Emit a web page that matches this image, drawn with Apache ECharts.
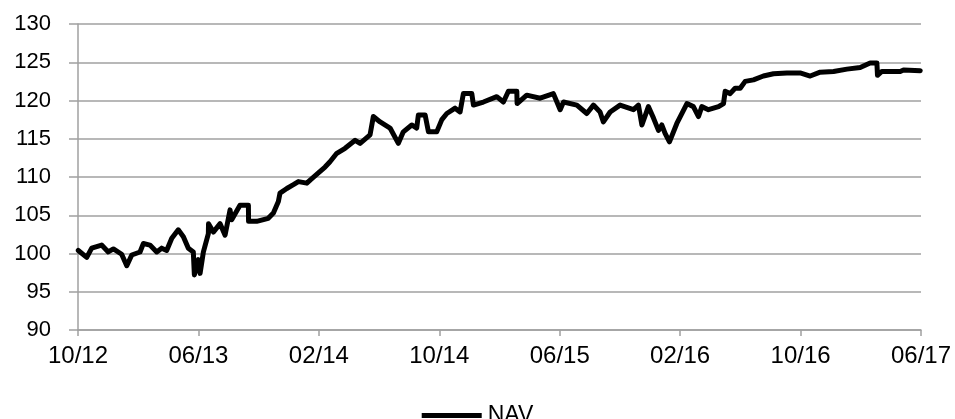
<!DOCTYPE html>
<html>
<head>
<meta charset="utf-8">
<script src="https://cdn.jsdelivr.net/npm/echarts@6/dist/echarts.min.js"></script>
<style>html,body{margin:0;padding:0;background:#fff}#c{width:955px;height:419px}</style>
</head>
<body>
<div id="c"></div>
<script>
// months elapsed since October 2012 (10/12 = 0)
var months = [0.02,0.58,0.91,1.57,2.01,2.35,2.90,3.24,3.57,4.12,4.34,4.78,5.23,5.56,5.89,6.23,6.66,7.00,7.33,7.66,7.73,7.99,8.11,8.33,8.66,8.67,8.99,9.44,9.77,10.10,10.21,10.76,11.32,11.33,11.87,12.64,12.98,13.31,13.42,13.87,14.31,14.64,15.20,15.42,15.95,16.41,16.74,17.19,17.74,18.41,18.74,19.40,19.62,20.07,20.73,21.28,21.61,22.17,22.50,22.61,23.06,23.28,23.83,24.17,24.50,25.05,25.38,25.60,26.16,26.27,26.93,27.82,28.26,28.59,29.15,29.17,29.81,30.70,31.58,32.03,32.25,33.14,33.80,34.24,34.68,34.90,35.35,36.01,36.90,37.23,37.46,37.89,38.23,38.56,38.78,39.00,39.29,39.78,40.45,40.88,41.22,41.44,41.88,42.55,42.88,42.99,43.32,43.65,43.99,44.32,44.87,45.53,46.20,47.09,47.97,48.64,49.30,50.19,51.08,51.96,52.62,53.07,53.11,53.40,54.62,54.84,55.95];
var nav = [100.4,99.5,100.7,101.1,100.2,100.6,99.9,98.4,99.8,100.2,101.3,101.1,100.2,100.7,100.4,102.0,103.1,102.2,100.7,100.2,97.2,99.2,97.4,100.2,102.6,103.9,102.8,103.9,102.4,105.7,104.4,106.3,106.3,104.2,104.2,104.6,105.3,106.8,107.9,108.5,109.0,109.4,109.2,109.6,110.5,111.3,112.0,113.1,113.75,114.8,114.4,115.5,117.9,117.2,116.4,114.4,115.9,116.8,116.4,118.1,118.1,115.9,115.9,117.5,118.3,119.0,118.5,120.9,120.9,119.4,119.8,120.5,119.8,121.2,121.2,119.6,120.7,120.3,120.9,118.8,119.8,119.4,118.3,119.4,118.5,117.2,118.5,119.4,118.8,119.4,116.8,119.2,117.7,116.1,116.8,115.7,114.6,117.0,119.6,119.2,117.9,119.2,118.8,119.2,119.6,121.2,120.9,121.6,121.6,122.5,122.7,123.2,123.5,123.6,123.6,123.2,123.7,123.8,124.1,124.3,124.9,124.9,123.3,123.8,123.8,124.0,123.9];
var xTickLabels = ['10/12','06/13','02/14','10/14','06/15','02/16','10/16','06/17'];
var seriesName = 'NAV';

var data = months.map(function (m, i) { return [m, nav[i]]; });
var chart = echarts.init(document.getElementById('c'));
var gray = '#a0a0a0';
var font = 'Liberation Sans, Arial, sans-serif';
chart.setOption({
  animation: false,
  grid: { left: 78, right: 34, top: 24, bottom: 89 },
  legend: {
    top: 399, left: 'center',
    icon: 'rect', itemWidth: 60, itemHeight: 5, itemGap: 4,
    textStyle: { fontFamily: font, fontSize: 23, color: '#000', padding: [0, 0, 0, 1] },
    data: [seriesName]
  },
  xAxis: {
    type: 'value', min: 0, max: 56, interval: 8,
    axisLine: { lineStyle: { color: gray, width: 1.5 } },
    axisTick: { show: true, length: 6, lineStyle: { color: gray, width: 1.5 } },
    splitLine: { show: false },
    axisLabel: {
      margin: 14, fontFamily: font, fontSize: 24, color: '#000',
      formatter: function (v) { return xTickLabels[Math.round(v / 8)] || ''; }
    }
  },
  yAxis: {
    type: 'value', min: 90, max: 130, interval: 5,
    axisLine: { show: true, lineStyle: { color: gray, width: 1.5 } },
    axisTick: { show: true, length: 9, lineStyle: { color: gray, width: 1.5 } },
    splitLine: { show: true, lineStyle: { color: gray, width: 1.5 } },
    axisLabel: { margin: 27, fontFamily: font, fontSize: 22, color: '#000' }
  },
  series: [{
    name: seriesName, type: 'line', data: data,
    showSymbol: false, symbol: 'none',
    lineStyle: { color: '#000', width: 5, join: 'round', cap: 'round' },
    itemStyle: { color: '#000' }
  }]
});
</script>
</body>
</html>
